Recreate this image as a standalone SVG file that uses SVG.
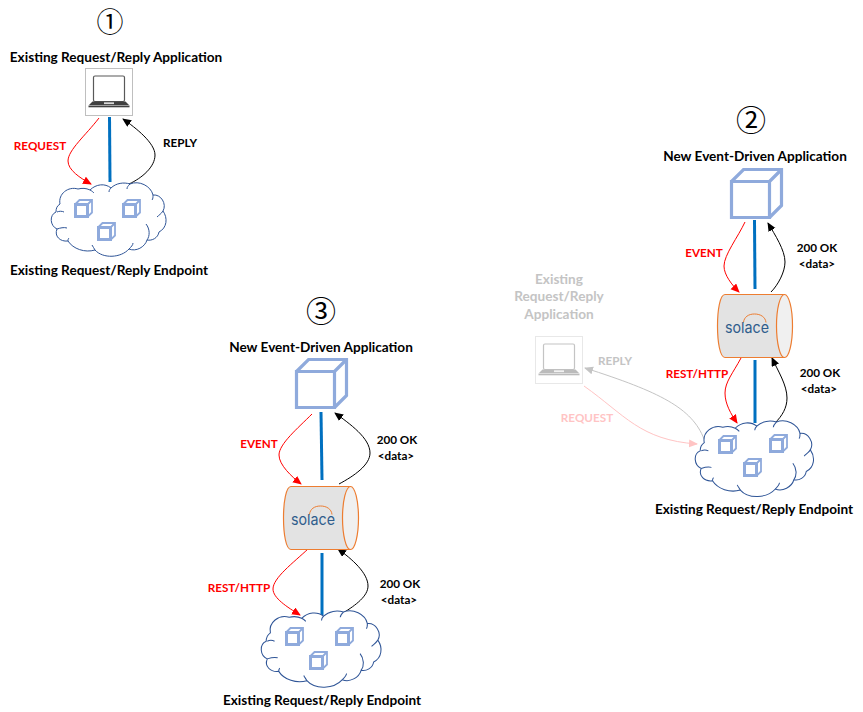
<svg xmlns="http://www.w3.org/2000/svg" xmlns:xlink="http://www.w3.org/1999/xlink" width="863" height="712" viewBox="0 0 863 712">
<style>
text{font-family:"Lato","Liberation Sans",sans-serif;font-weight:700;text-anchor:middle}
.t{font-size:13.6px;fill:#000}
.l{font-size:11.7px;fill:#000}
.r{font-size:11.7px;fill:#f00}
.g{fill:#c4c4c4}
.num{font-family:"Noto Sans CJK JP",sans-serif;font-weight:400;font-size:30px;fill:#000}
.bar{stroke:#0070c0;stroke-width:3;fill:none}
.red{stroke:#f00;stroke-width:1;fill:none;marker-end:url(#ar)}
.blk{stroke:#000;stroke-width:1;fill:none;marker-end:url(#ab)}
.cl{fill:#fff;stroke:#2f5597;stroke-width:1}
.cli{fill:none;stroke:#2f5597;stroke-width:1}
.cube{fill:none;stroke:#8faadc;stroke-linejoin:miter}
.cyl{fill:#e3e3e3;stroke:#ed7d31;stroke-width:1.2}
.cyle{fill:#f0f0f0;stroke:#ed7d31;stroke-width:1.2}
.sol{font-family:"Inter","Liberation Sans",sans-serif;font-weight:400;font-size:15px;fill:#2f5d8c}
</style>
<defs>
<marker id="ar" markerWidth="10" markerHeight="10" refX="8" refY="4" orient="auto" markerUnits="userSpaceOnUse"><path d="M0,0L9,4L0,8z" fill="#f00"/></marker>
<marker id="ab" markerWidth="10" markerHeight="10" refX="8" refY="4" orient="auto" markerUnits="userSpaceOnUse"><path d="M0,0L9,4L0,8z" fill="#000"/></marker>
<marker id="agr" markerWidth="10" markerHeight="10" refX="8" refY="4" orient="auto" markerUnits="userSpaceOnUse"><path d="M0,0L9,4L0,8z" fill="#c4c4c4"/></marker>
<marker id="apk" markerWidth="10" markerHeight="10" refX="8" refY="4" orient="auto" markerUnits="userSpaceOnUse"><path d="M0,0L9,4L0,8z" fill="#ffc4c4"/></marker>
<g id="cloud">
<path class="cl" d="M60,204C58,194 68,186 78,189C82,188 86,188 90,190C96,184 105,183 111,188C116,183 124,182 130,184C139,180 151,186 153,195C161,194 167,204 163,211C168,218 167,228 159,232C158,238 152,241 147,240C145,247 136,252 129,249C121,258 103,259 95,250C85,253 73,249 68,241C60,242 54,236 57,229C50,226 49,215 56,212C56,208 57,206 60,204Z"/>
<path class="cli" d="M57,212C59,211 62,211 64,212M57,229C60,228 64,227 67,228M68,241C68,240 68,239 69,238M95,250C94,248 93,247 92,245M129,249C131,247 133,245 133,243M147,240C150,236 150,229 146,224M163,211C161,214 159,215 157,217M153,195C153,197 153,199 152,200M130,184C128,186 127,187 127,189M111,188C110,189 109,190 109,192M90,190C92,191 93,192 94,193"/>
</g>
<g id="scube">
<path class="cube" stroke-width="3" d="M1.500,5.500H13.500V17.500H1.500Z"/>
<path class="cube" stroke-width="1.800" d="M1.500,5L5.500,1H18V13.500L13.500,17.800M13.500,5.500L18,1"/>
</g>
<g id="bcube">
<path class="cube" stroke-width="3.200" d="M1.500,13.500H39.500V49.500H1.500ZM1.500,13.500L13.500,1.500H51.500V37.500L39.500,49.500M39.500,13.500L51.500,1.500"/>
</g>
<g id="laptop">
<rect x="0.5" y="0.5" width="47" height="47" fill="#fff" stroke="#bfbfbf"/>
<rect x="8.500" y="8" width="31" height="25.500" rx="1.500" fill="#fff" stroke="#595959" stroke-width="1.200"/>
<path d="M7.500,33.500H40.500L44,37H4Z" fill="#404040"/>
<rect x="3.500" y="37.500" width="41" height="1.800" fill="#404040"/>
<rect x="19" y="34.300" width="10" height="1.800" fill="#d9d9d9"/>
</g>
<g id="cyl">
<path class="cyl" d="M8,0.500H67.500V63.500H8C3,63.500 0.500,48 0.500,32C0.500,16 3,0.500 8,0.500Z"/>
<ellipse class="cyle" cx="67.500" cy="32" rx="8" ry="31.500"/>
<path d="M26.500,28.500C27,23 31.500,20 37.500,20C43.500,20 48.500,23 49,28.500" fill="none" stroke="#ed7d31" stroke-width="1"/>
<text class="sol" x="30" y="38.500" textLength="44" lengthAdjust="spacingAndGlyphs">solace</text>
</g>
</defs>

<g id="connectors">
<path class="red" d="M99,118C86,135 68,150 68,161C68,170 80,178 91,184"/>
<path class="bar" d="M109.500,117L110,182"/>
<path class="blk" d="M129,184C142,178 155,167 155,155C155,143 136,128 123,119"/>

<path class="red" d="M745,222C738,237 724,255 724,266C724,275 732,285 739,292"/>
<path class="bar" d="M754.500,220L755,289"/>
<path class="blk" d="M771,292C778,285 785,272 785,262C785,250 775,235 768,223"/>
<path class="red" d="M741,358C733,373 725,382 725,393C725,404 731,414 737,423"/>
<path class="bar" d="M755,360L755,423"/>
<path class="blk" d="M775,423C782,416 787,408 787,398C787,385 778,371 772,358"/>

<path class="red" d="M312,414C298,428 279,444 279,455C279,465 292,477 301,484"/>
<path class="bar" d="M321,412L322,480"/>
<path class="blk" d="M339,484C354,476 370,465 370,453C370,438 350,424 335,413"/>
<path class="red" d="M308,549C293,563 273,578 273,589C273,598 287,607 300,615"/>
<path class="bar" d="M322,553L322,615"/>
<path class="blk" d="M343,613C356,605 368,596 368,586C368,573 352,559 338,549"/>

<path d="M704,439C692,408 660,392 585,368" fill="none" stroke="#c4c4c4" stroke-width="1" marker-end="url(#agr)"/>
<path d="M584,386C625,415 640,440 697,444" fill="none" stroke="#ffc4c4" stroke-width="1" marker-end="url(#apk)"/>
</g>

<g id="app1">
<use xlink:href="#laptop" href="#laptop" x="85" y="68"/>
<text class="num" style="font-size:27px" x="110" y="31.500">①</text>
<text class="t" x="116" y="62">Existing Request/Reply Application</text>
</g>
<g id="endpoint1">
<use xlink:href="#cloud" href="#cloud"/>
<use xlink:href="#scube" href="#scube" x="74" y="199"/>
<use xlink:href="#scube" href="#scube" x="122" y="199"/>
<use xlink:href="#scube" href="#scube" x="97" y="222"/>
<text class="t" x="109" y="275">Existing Request/Reply Endpoint</text>
</g>
<g id="labels1">
<text class="r" x="40" y="150">REQUEST</text>
<text class="l" x="180" y="147">REPLY</text>
</g>

<g id="app2">
<use xlink:href="#bcube" href="#bcube" x="730" y="168"/>
<text class="num" x="751" y="131">②</text>
<text class="t" x="755" y="161">New Event-Driven Application</text>
</g>
<g id="broker2"><use xlink:href="#cyl" href="#cyl" x="717" y="294"/></g>
<g id="endpoint2">
<use xlink:href="#cloud" href="#cloud" transform="translate(695,420) scale(1.03) translate(-51,-182)"/>
<use xlink:href="#scube" href="#scube" x="718" y="435"/>
<use xlink:href="#scube" href="#scube" x="769" y="434"/>
<use xlink:href="#scube" href="#scube" x="743" y="458"/>
<text class="t" x="754" y="514">Existing Request/Reply Endpoint</text>
</g>
<g id="legacy2">
<g opacity="0.35"><use xlink:href="#laptop" href="#laptop" x="535" y="336"/></g>
<text class="t g" x="559" y="284">Existing</text>
<text class="t g" x="559" y="301">Request/Reply</text>
<text class="t g" x="559" y="319">Application</text>
</g>
<g id="labels2">
<text class="r" x="704" y="257">EVENT</text>
<text class="l" x="817" y="252">200 OK</text>
<text class="l" x="817" y="268">&lt;data&gt;</text>
<text class="r" x="697" y="378">REST/HTTP</text>
<text class="l" x="820" y="377">200 OK</text>
<text class="l" x="819" y="393">&lt;data&gt;</text>
<text class="l g" x="615" y="365">REPLY</text>
<text style="fill:#ffc4c4" class="l" x="587" y="422">REQUEST</text>
</g>

<g id="app3">
<use xlink:href="#bcube" href="#bcube" x="295" y="358"/>
<text class="num" x="321" y="322">③</text>
<text class="t" x="321" y="352">New Event-Driven Application</text>
</g>
<g id="broker3"><use xlink:href="#cyl" href="#cyl" x="283" y="486"/></g>
<g id="endpoint3">
<use xlink:href="#cloud" href="#cloud" transform="translate(261,610) scale(1.043,1.04) translate(-51,-182)"/>
<use xlink:href="#scube" href="#scube" x="285" y="627"/>
<use xlink:href="#scube" href="#scube" x="335" y="627"/>
<use xlink:href="#scube" href="#scube" x="309" y="651"/>
<text class="t" x="322" y="705">Existing Request/Reply Endpoint</text>
</g>
<g id="labels3">
<text class="r" x="259" y="448">EVENT</text>
<text class="l" x="397" y="444">200 OK</text>
<text class="l" x="396" y="460">&lt;data&gt;</text>
<text class="r" x="239" y="592">REST/HTTP</text>
<text class="l" x="400" y="588">200 OK</text>
<text class="l" x="399" y="604">&lt;data&gt;</text>
</g>
</svg>
